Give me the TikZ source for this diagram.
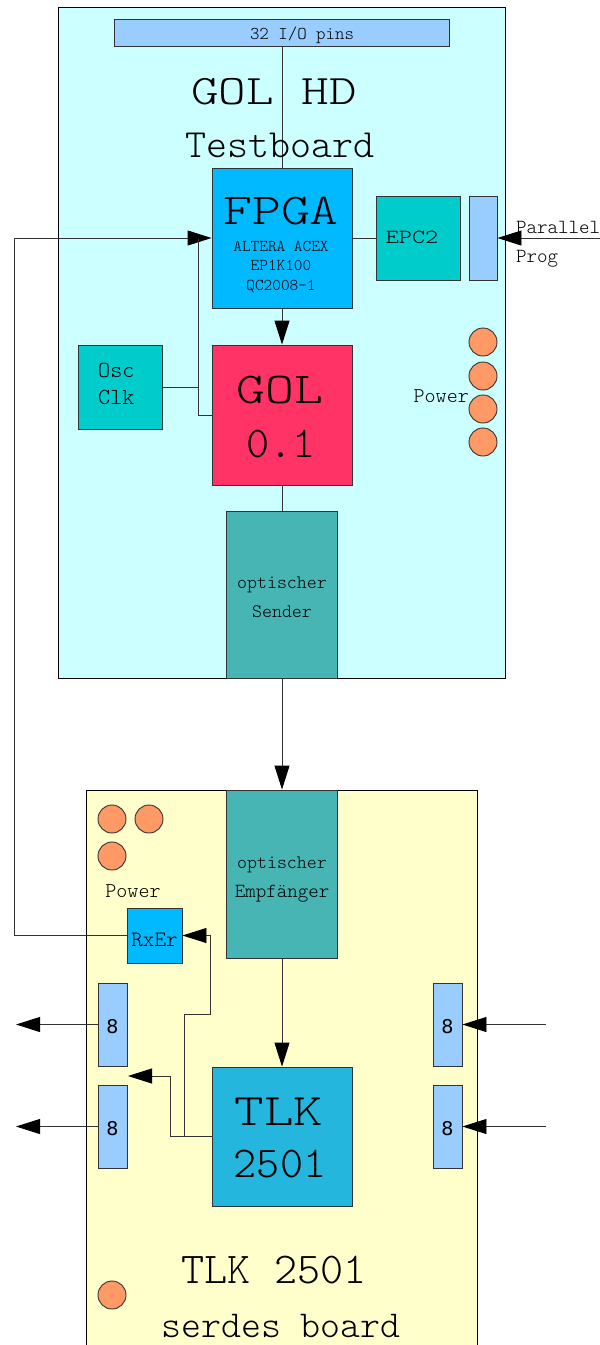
\documentclass[tikz,border=0pt]{standalone}
\usepackage{fontspec}
\usetikzlibrary{arrows.meta}
% thin slab mono faces used for all labels; a widened cut for the big capitals
\setmonofont{Latin Modern Mono Light}
\newfontfamily\widefont{Latin Modern Mono Light}[FakeStretch=1.25]
\newfontfamily\digitfont{DejaVu Sans}
\newcommand\fsz[1]{\fontsize{#1}{#1}\selectfont}
\definecolor{boardcyan}{HTML}{CCFFFF}
\definecolor{boardyellow}{HTML}{FFFFCC}
\definecolor{pinblue}{HTML}{99CCFF}
\definecolor{fpgablue}{HTML}{00B9FF}
\definecolor{chipteal}{HTML}{00CCCC}
\definecolor{golred}{HTML}{FF3366}
\definecolor{opticteal}{HTML}{48B5B5}
\definecolor{tlkblue}{HTML}{24B6DC}
\definecolor{powerorange}{HTML}{FF9966}
\definecolor{linegray}{HTML}{333333}
\begin{document}
\begin{tikzpicture}[x=1pt,y=-1pt,
  box/.style={rectangle,draw=linegray,line width=0.9pt,inner sep=0pt},
  boardbox/.style={rectangle,draw=black,line width=0.9pt,inner sep=0pt},
  wire/.style={draw=linegray,line width=0.9pt},
  arr/.style={wire,-{Triangle[length=24pt,width=15pt,color=black,fill=black]}},
  lbl/.style={inner sep=0pt,anchor=base,text=black},
  pwr/.style={circle,draw=linegray,line width=0.9pt,fill=powerorange,minimum size=28pt,inner sep=0pt}]
\useasboundingbox (0,0) rectangle (600,1345);
\clip (0,0) rectangle (600,1345);

% boards
\node[boardbox,fill=boardcyan,minimum width=447pt,minimum height=671pt] (topboard) at (281.5,342.5) {};
\node[boardbox,fill=boardyellow,minimum width=391pt,minimum height=570pt] (botboard) at (281.5,1075) {};

% GOL test board parts
\node[box,fill=pinblue,minimum width=335pt,minimum height=27pt] (pins) at (281.5,32.5) {};
\node[box,fill=fpgablue,minimum width=140pt,minimum height=140pt] (fpga) at (282,238) {};
\node[box,fill=chipteal,minimum width=84pt,minimum height=84pt] (epc) at (418,238) {};
\node[box,fill=pinblue,minimum width=28pt,minimum height=84pt] (par) at (483,238) {};
\node[box,fill=chipteal,minimum width=84pt,minimum height=84pt] (osc) at (120,387) {};
\node[box,fill=golred,minimum width=140pt,minimum height=140pt] (gol) at (282,415) {};
\node[box,fill=opticteal,minimum width=111pt,minimum height=167pt] (sender) at (282,594.5) {};
\node[pwr] (pa) at (483,342) {};
\node[pwr] (pb) at (483,376) {};
\node[pwr] (pc) at (483,409) {};
\node[pwr] (pd) at (483,442) {};

% serdes board parts
\node[box,fill=opticteal,minimum width=111pt,minimum height=168pt] (empf) at (282,874) {};
\node[box,fill=fpgablue,minimum width=55pt,minimum height=55pt] (rxer) at (154.5,935.5) {};
\node[box,fill=tlkblue,minimum width=140pt,minimum height=139pt] (tlk) at (282,1136.5) {};
\node[box,fill=pinblue,minimum width=29pt,minimum height=83pt] (la) at (112.5,1024.5) {};
\node[box,fill=pinblue,minimum width=29pt,minimum height=83pt] (lb) at (112.5,1126.5) {};
\node[box,fill=pinblue,minimum width=29pt,minimum height=83pt] (ra) at (447.5,1024.5) {};
\node[box,fill=pinblue,minimum width=29pt,minimum height=83pt] (rb) at (447.5,1126.5) {};
\node[pwr] (pe) at (112,819) {};
\node[pwr] (pf) at (149,819) {};
\node[pwr] (pg) at (112,856) {};
\node[pwr] (ph) at (112,1295) {};

% free ends and corners of connectors
\coordinate (progin) at (600,238);
\coordinate (loopx) at (14,238);
\coordinate (clka) at (198,238);
\coordinate (clkb) at (198,415);
\coordinate (tapa) at (170,1076);
\coordinate (dout) at (128,1076);
\coordinate (tapb) at (184,1014);
\coordinate (tapc) at (210,1014);
\coordinate (outa) at (16,1024.5);
\coordinate (outb) at (16,1126.5);
\coordinate (ina) at (546,1024.5);
\coordinate (inb) at (546,1126.5);

% connectors
\draw[wire] (pins.south -| fpga.north) -- (fpga.north);
\draw[arr] (fpga.south) -- (gol.north);
\draw[wire] (fpga.east) -- (epc.west);
\draw[arr] (progin) -- (par.east);
\draw[arr] (rxer.west) -| (loopx) -- (fpga.west);
\draw[wire] (osc.east) -- (osc.east -| clka);
\draw[wire] (clka) -- (clkb) -- (clkb -| gol.west);
\draw[wire] (gol.south) -- (sender.north);
\draw[arr] (sender.south) -- (empf.north);
\draw[arr] (empf.south) -- (tlk.north);
\draw[arr] (tlk.west) -| (tapa) -- (dout);
\draw[arr] (tlk.west -| tapb) -- (tapb) -- (tapc) |- (rxer.east);
\draw[arr] (la.west) -- (outa);
\draw[arr] (lb.west) -- (outb);
\draw[arr] (ina) -- (ra.east);
\draw[arr] (inb) -- (rb.east);

% labels
\node[lbl,font=\ttfamily\fsz{18}] (tpins) at (302,39) {32 I/O pins};
\node[lbl,font=\widefont\fsz{42}] (ttitle) at (274,104) {GOL HD};
\node[lbl,font=\ttfamily\fsz{40}] (ttitleb) at (280,157) {Testboard};
\node[lbl,font=\widefont\fsz{44}] (tfpga) at (281,224) {FPGA};
\node[lbl,font=\ttfamily\fsz{16.5}] (tfpgaa) at (281,251) {ALTERA ACEX};
\node[lbl,font=\ttfamily\fsz{16.5}] (tfpgab) at (281,270) {EP1K100};
\node[lbl,font=\ttfamily\fsz{16.5}] (tfpgac) at (281,290) {QC2008-1};
\node[lbl,font=\widefont\fsz{20}] (tepc) at (412,243) {EPC2};
\node[lbl,anchor=base west,font=\ttfamily\fsz{20}] (tpara) at (516,233) {Parallel};
\node[lbl,anchor=base west,font=\ttfamily\fsz{20}] (tparb) at (516,262) {Prog};
\node[lbl,anchor=base west,font=\ttfamily\fsz{23}] (tosca) at (98,377) {Osc};
\node[lbl,anchor=base west,font=\ttfamily\fsz{23}] (toscb) at (98,404) {Clk};
\node[lbl,font=\widefont\fsz{44}] (tgol) at (280,403) {GOL};
\node[lbl,font=\ttfamily\fsz{44}] (tgolb) at (281,457) {0.1};
\node[lbl,anchor=base east,font=\ttfamily\fsz{21}] (tpwr) at (469,402) {Power};
\node[lbl,font=\ttfamily\fsz{19}] (tsenda) at (282,588) {optischer};
\node[lbl,font=\ttfamily\fsz{19}] (tsendb) at (282,617) {Sender};
\node[lbl,font=\ttfamily\fsz{19}] (tempfa) at (282,868) {optischer};
\node[lbl,font=\ttfamily\fsz{20}] (tempfb) at (282,897) {Empfänger};
\node[lbl,font=\ttfamily\fsz{21}] (tpwrb) at (133,897) {Power};
\node[lbl,font=\ttfamily\fsz{22}] (trxer) at (154.5,946) {RxEr};
\node[lbl,font=\digitfont\fsz{19}] (tla) at (112.5,1033) {8};
\node[lbl,font=\digitfont\fsz{19}] (tlb) at (112.5,1135) {8};
\node[lbl,font=\digitfont\fsz{19}] (tra) at (447.5,1033) {8};
\node[lbl,font=\digitfont\fsz{19}] (trb) at (447.5,1135) {8};
\node[lbl,font=\widefont\fsz{45}] (ttlk) at (279,1125) {TLK};
\node[lbl,font=\ttfamily\fsz{44}] (ttlkb) at (280,1177) {2501};
\node[lbl,font=\ttfamily\fsz{44}] (tboard) at (274,1283) {TLK 2501};
\node[lbl,font=\ttfamily\fsz{38}] (tboardb) at (281,1337) {serdes board};
\end{tikzpicture}
\end{document}
